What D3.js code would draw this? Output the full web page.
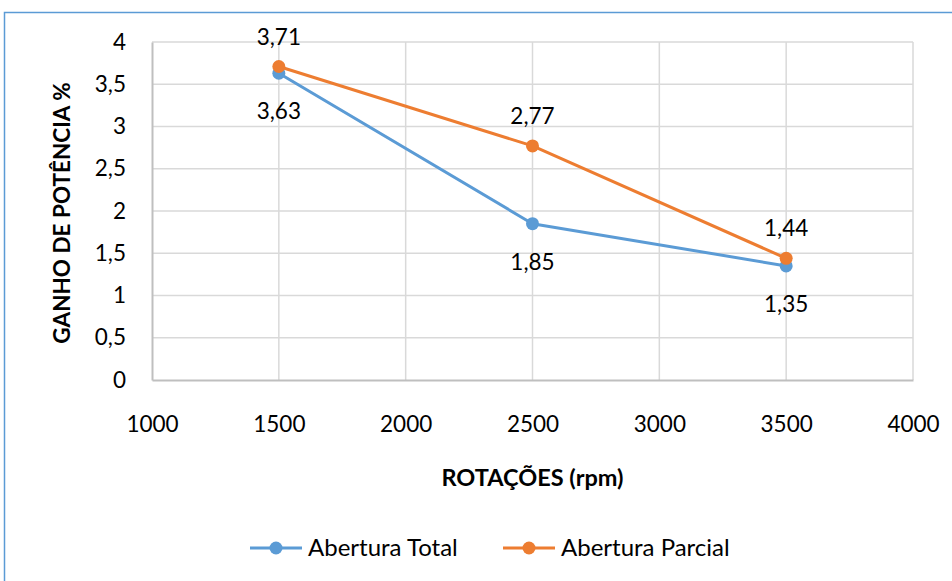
<!DOCTYPE html>
<html>
<head>
<meta charset="utf-8">
<script src="https://cdn.jsdelivr.net/npm/d3@7"></script>
<style>
  html, body { margin: 0; padding: 0; background: #fff; }
  svg { display: block; }
  text { font-family: Lato, "Open Sans", sans-serif; fill: #000; }
</style>
</head>
<body>
<svg id="chart" width="952" height="581"></svg>
<script>
// Rotational speed (rpm) and power gain (%) for each opening mode
const rotations = [1500, 2500, 3500];
const aberturaTotal = [3.63, 1.85, 1.35];
const aberturaParcial = [3.71, 2.77, 1.44];
const xTicks = [1000, 1500, 2000, 2500, 3000, 3500, 4000];
const yTicks = [0, 0.5, 1, 1.5, 2, 2.5, 3, 3.5, 4];
const seriesNames = ["Abertura Total", "Abertura Parcial"];
const seriesColors = ["#5b9bd5", "#ed7d31"];

const svg = d3.select("#chart");
const fmt = v => String(v).replace(".", ",");
const FS = 22.5;

// chart frame
svg.append("rect")
  .attr("x", 4.5).attr("y", 12.5)
  .attr("width", 960).attr("height", 600)
  .attr("fill", "#fff").attr("stroke", "#5b9bd5").attr("stroke-width", 1.5);

const plot = { left: 152, right: 913, top: 42, bottom: 380 };
const x = d3.scaleLinear().domain([1000, 4000]).range([plot.left, plot.right]);
const y = d3.scaleLinear().domain([0, 4]).range([plot.bottom, plot.top]);

// gridlines
svg.append("g")
  .selectAll("line.h").data(yTicks.filter(d => d > 0)).join("line")
  .attr("x1", plot.left).attr("x2", plot.right)
  .attr("y1", d => y(d)).attr("y2", d => y(d))
  .attr("stroke", "#d9d9d9").attr("stroke-width", 1.5);
svg.append("g")
  .selectAll("line.v").data(xTicks.filter(d => d > 1000)).join("line")
  .attr("x1", d => x(d)).attr("x2", d => x(d))
  .attr("y1", plot.top).attr("y2", plot.bottom)
  .attr("stroke", "#d9d9d9").attr("stroke-width", 1.5);

// axes
const xAxis = svg.append("g")
  .attr("transform", `translate(0,${plot.bottom})`)
  .call(d3.axisBottom(x).tickValues(xTicks).tickSize(0).tickPadding(36).tickFormat(d => d));
xAxis.select(".domain").attr("stroke", "#bfbfbf").attr("stroke-width", 2);
xAxis.selectAll("text").attr("font-size", FS).attr("font-family", "Lato, sans-serif").attr("fill", "#000");

const yAxis = svg.append("g")
  .attr("transform", `translate(${plot.left},0)`)
  .call(d3.axisLeft(y).tickValues(yTicks).tickSize(0).tickPadding(26).tickFormat(fmt));
yAxis.select(".domain").attr("stroke", "#bfbfbf").attr("stroke-width", 2);
yAxis.selectAll("text").attr("font-size", FS).attr("font-family", "Lato, sans-serif").attr("fill", "#000");

// axis titles
svg.append("text")
  .attr("x", (plot.left + plot.right) / 2).attr("y", 486)
  .attr("text-anchor", "middle").attr("font-size", 23.5).attr("font-weight", "bold")
  .text("ROTAÇÕES (rpm)");
svg.append("text")
  .attr("transform", `translate(70,${(plot.top + plot.bottom) / 2 + 2}) rotate(-90)`)
  .attr("text-anchor", "middle").attr("font-size", 22.5).attr("font-weight", "bold")
  .text("GANHO DE POTÊNCIA %");

// series lines and markers
const series = [aberturaTotal, aberturaParcial];
const line = d3.line().x((d, i) => x(rotations[i])).y(d => y(d));
series.forEach((vals, s) => {
  svg.append("path").datum(vals)
    .attr("d", line).attr("fill", "none")
    .attr("stroke", seriesColors[s]).attr("stroke-width", 3).attr("stroke-linejoin", "round");
  svg.append("g").selectAll("circle").data(vals).join("circle")
    .attr("cx", (d, i) => x(rotations[i])).attr("cy", d => y(d)).attr("r", 6.5)
    .attr("fill", seriesColors[s]);
});

// value labels: total below, partial above
svg.append("g").selectAll("text").data(aberturaTotal).join("text")
  .attr("x", (d, i) => x(rotations[i])).attr("y", d => y(d) + 46)
  .attr("text-anchor", "middle").attr("font-size", FS).text(fmt);
svg.append("g").selectAll("text").data(aberturaParcial).join("text")
  .attr("x", (d, i) => x(rotations[i])).attr("y", d => y(d) - 22)
  .attr("text-anchor", "middle").attr("font-size", FS).text(fmt);

// legend
const legendItems = [{ x: 250, tx: 308 }, { x: 503, tx: 561 }];
legendItems.forEach((it, s) => {
  const g = svg.append("g");
  g.append("line").attr("x1", it.x).attr("x2", it.x + 52)
    .attr("y1", 548).attr("y2", 548)
    .attr("stroke", seriesColors[s]).attr("stroke-width", 3);
  g.append("circle").attr("cx", it.x + 26).attr("cy", 548).attr("r", 6.5).attr("fill", seriesColors[s]);
  g.append("text").attr("x", it.tx).attr("y", 556).attr("font-size", 24).text(seriesNames[s]);
});
</script>
</body>
</html>
